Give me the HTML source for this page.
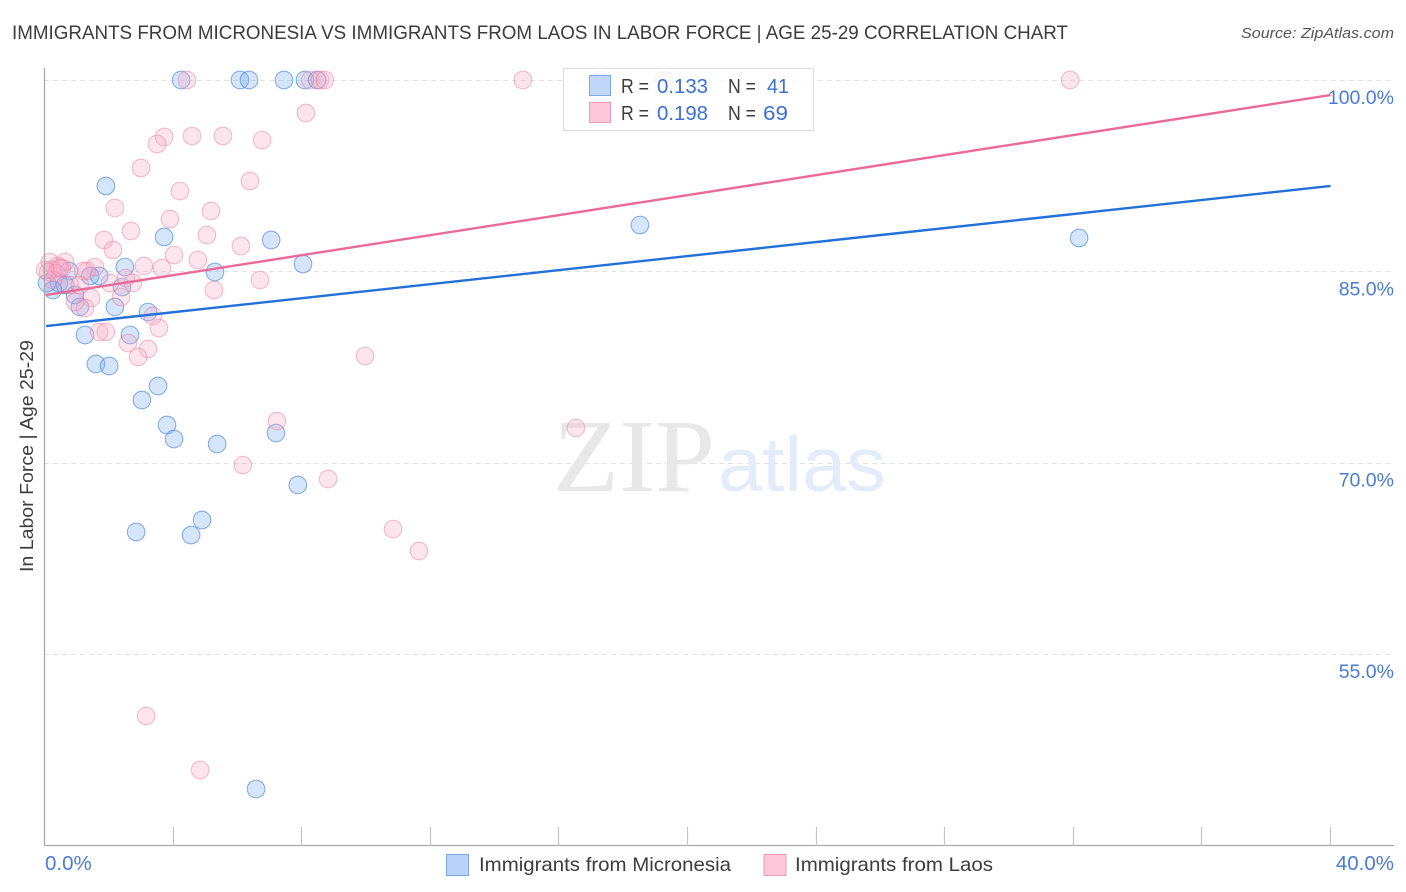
<!DOCTYPE html>
<html lang="en">
<head>
<meta charset="utf-8">
<title>Immigrants from Micronesia vs Immigrants from Laos in Labor Force</title>
<style>
html,body{margin:0;padding:0;background:#fff;width:1406px;height:892px;overflow:hidden}
svg{display:block;font-family:"Liberation Sans",sans-serif}
</style>
</head>
<body>
<svg id="chart" xmlns="http://www.w3.org/2000/svg" width="1406" height="892" viewBox="0 0 1406 892">
  <rect x="0" y="0" width="1406" height="892" fill="#ffffff"/>
  <text x="12" y="39" font-size="19.5" fill="#3c3c3c" textLength="1056" lengthAdjust="spacingAndGlyphs">IMMIGRANTS FROM MICRONESIA VS IMMIGRANTS FROM LAOS IN LABOR FORCE | AGE 25-29 CORRELATION CHART</text>
  <text x="1241" y="38" font-size="15" font-style="italic" fill="#555555" textLength="153" lengthAdjust="spacingAndGlyphs">Source: ZipAtlas.com</text>

  <g id="grid-layer"></g>

  <g>
    <text x="553" y="491" font-family="'Liberation Serif',serif" font-size="104" fill="#e8e8e8" textLength="162" lengthAdjust="spacingAndGlyphs">ZIP</text>
    <text x="718" y="491" font-size="77" fill="#e3ecfb" textLength="168" lengthAdjust="spacingAndGlyphs">atlas</text>
  </g>

  <g id="points-layer"></g>
  <g id="trend-layer"></g>

  <g id="axis-layer">
    <line x1="44.5" y1="68" x2="44.5" y2="846" stroke="#aaaaaa" stroke-width="1.3"/>
    <line x1="44" y1="845.5" x2="1394" y2="845.5" stroke="#aaaaaa" stroke-width="1.3"/>
  </g>

  <text transform="translate(33,572) rotate(-90)" font-size="18" fill="#3c3c3c" textLength="232" lengthAdjust="spacingAndGlyphs">In Labor Force | Age 25-29</text>

  <g>
    <rect x="563.5" y="68.5" width="250" height="62" fill="#ffffff" fill-opacity="0.82" stroke="#dddddd" stroke-width="1"/>
    <rect x="589.5" y="75.5" width="21" height="20" fill="#b9d3f8" fill-opacity="0.9" stroke="#7baae8" stroke-width="1"/>
    <text x="621" y="93" font-size="20" fill="#3c3c3c" textLength="28" lengthAdjust="spacingAndGlyphs">R =</text>
    <text x="657" y="93" font-size="20.5" fill="#3b6fd4" textLength="51" lengthAdjust="spacingAndGlyphs">0.133</text>
    <text x="728" y="93" font-size="20" fill="#3c3c3c" textLength="28" lengthAdjust="spacingAndGlyphs">N =</text>
    <text x="767" y="93" font-size="20.5" fill="#3b6fd4" textLength="22" lengthAdjust="spacingAndGlyphs">41</text>
    <rect x="589.5" y="102.5" width="21" height="20" fill="#fdc8da" stroke="#f09ab8" stroke-width="1"/>
    <text x="621" y="120" font-size="20" fill="#3c3c3c" textLength="28" lengthAdjust="spacingAndGlyphs">R =</text>
    <text x="657" y="120" font-size="20.5" fill="#3b6fd4" textLength="51" lengthAdjust="spacingAndGlyphs">0.198</text>
    <text x="728" y="120" font-size="20" fill="#3c3c3c" textLength="28" lengthAdjust="spacingAndGlyphs">N =</text>
    <text x="763" y="120" font-size="20.5" fill="#3b6fd4" textLength="25" lengthAdjust="spacingAndGlyphs">69</text>
  </g>

  <g>
    <rect x="446.5" y="854.5" width="22" height="21" fill="#b9d3f8" stroke="#7baae8" stroke-width="1"/>
    <text x="479" y="871" font-size="19.5" fill="#3c3c3c" textLength="252" lengthAdjust="spacingAndGlyphs">Immigrants from Micronesia</text>
    <rect x="764" y="854.5" width="22" height="21" fill="#fdc8da" stroke="#f09ab8" stroke-width="1"/>
    <text x="795" y="871" font-size="19.5" fill="#3c3c3c" textLength="198" lengthAdjust="spacingAndGlyphs">Immigrants from Laos</text>
  </g>

<script>
var categoryNames = ['micronesia', 'laos'];
var yTickValues = [100, 85, 70, 55];
var yTickLabels = ['100.0%', '85.0%', '70.0%', '55.0%'];
var xMinorTicks = [4, 8, 12, 16, 20, 24, 28, 32, 36, 40];
var xEndValues = [0, 40];
var xEndLabels = ['0.0%', '40.0%'];

var micronesiaX = [4.25,6.08,6.36,7.45,8.10,8.48,1.91,18.52,32.18,3.72,7.05,8.04,5.30,2.50,1.42,1.70,0.76,0.45,0.64,0.26,0.95,1.10,2.19,2.41,3.22,1.26,2.66,1.60,2.01,3.53,3.03,3.81,4.03,5.37,7.20,7.88,2.85,4.56,4.90,6.58,0.08];
var micronesiaY = [100,100,100,100,100,100,91.69,88.63,87.61,87.69,87.45,85.57,84.94,85.33,84.63,84.63,85.02,84.08,83.92,83.53,83.14,82.20,82.20,83.76,81.80,80.00,80.00,77.73,77.57,76.00,74.90,72.94,71.84,71.45,72.31,68.24,64.55,64.31,65.49,44.39,84.08];

var laosX = [4.43,8.26,8.57,8.72,14.88,31.90,17.28,19.27,8.13,3.72,3.50,4.59,5.55,6.77,3.00,6.39,4.21,2.19,5.18,3.90,2.69,5.05,1.85,2.13,6.11,4.03,4.77,3.09,3.65,6.70,5.27,2.75,2.04,2.53,1.57,1.32,2.38,1.45,0.95,1.26,3.37,3.56,1.70,1.91,2.60,3.22,2.91,9.97,7.23,16.53,6.17,8.82,10.84,11.65,3.16,4.84,0.17,0.64,0.42,0.23,0.11,0.36,0.54,1.20,0.26,0.79,0.02,0.48,1.10];
var laosY = [100,100,100,100,100,100,100,100,97.41,95.53,94.98,95.61,95.61,95.29,93.10,92.08,91.29,89.96,89.73,89.10,88.16,87.84,87.45,86.67,86.98,86.27,85.88,85.41,85.25,84.31,83.53,84.08,84.08,84.47,85.33,85.02,82.98,82.90,82.59,82.12,81.49,80.55,80.24,80.24,79.37,78.90,78.27,78.35,73.25,72.71,69.80,68.71,64.78,63.06,50.12,45.88,85.73,85.73,85.41,85.10,84.94,84.86,85.25,85.02,84.31,83.92,85.10,85.25,83.92];

var trendXRange = [0.05, 40];
var micronesiaTrend = [80.7, 91.69];
var laosTrend = [83.14, 98.82];

var NS = 'http://www.w3.org/2000/svg';
function xScale(v) { return 44.5 + v * 32.15; }
function yScale(v) { return 80 + (100 - v) * 12.75; }

function svgEl(tag, attrs, parent) {
  var el = document.createElementNS(NS, tag);
  for (var k in attrs) { el.setAttribute(k, attrs[k]); }
  parent.appendChild(el);
  return el;
}

var gridLayer = document.getElementById('grid-layer');
var axisLayer = document.getElementById('axis-layer');
var pointsLayer = document.getElementById('points-layer');
var trendLayer = document.getElementById('trend-layer');

yTickValues.forEach(function (v, i) {
  var y = Math.round(yScale(v)) + 0.5;
  var g = svgEl('line', {x1: 44, y1: y, x2: 1394, y2: y, stroke: '#e2e2e2', 'stroke-width': 1, 'stroke-dasharray': '5 4'}, gridLayer);
  
  
  var t = svgEl('text', {x: 1394, y: yScale(v) + 24, 'text-anchor': 'end', 'font-size': 19.5, fill: '#4a7bd6'}, axisLayer);
  t.textContent = yTickLabels[i];
  
  
});

xMinorTicks.forEach(function (v) {
  var x = Math.floor(xScale(v)) + 0.5;
  var tick = svgEl('line', {x1: x, y1: 827, x2: x, y2: 846, stroke: '#c4c4c4', 'stroke-width': 1.2}, axisLayer);
  
  
});

xEndValues.forEach(function (v, i) {
  var t = svgEl('text', {x: i === 0 ? xScale(v) + 0.5 : 1394, y: 870, 'text-anchor': i === 0 ? 'start' : 'end', 'font-size': 20.5, fill: '#4a7bd6'}, axisLayer);
  t.textContent = xEndLabels[i];
  
  
});

function drawPoints(xs, ys, fill, stroke, name) {
  xs.forEach(function (xv, i) {
    var c = svgEl('circle', {cx: xScale(xv), cy: yScale(ys[i]), r: 8.8, fill: fill, stroke: stroke, 'stroke-width': 1.1}, pointsLayer);
    
    
  });
}
drawPoints(micronesiaX, micronesiaY, 'rgba(125,175,240,0.32)', 'rgba(70,130,220,0.62)', 'point-micronesia');
drawPoints(laosX, laosY, 'rgba(250,170,195,0.30)', 'rgba(235,130,165,0.52)', 'point-laos');

var blueLine = svgEl('line', {x1: xScale(trendXRange[0]), y1: yScale(micronesiaTrend[0]), x2: xScale(trendXRange[1]), y2: yScale(micronesiaTrend[1]), stroke: '#2270d8', 'stroke-width': 2.4}, trendLayer);


var pinkLine = svgEl('line', {x1: xScale(trendXRange[0]), y1: yScale(laosTrend[0]), x2: xScale(trendXRange[1]), y2: yScale(laosTrend[1]), stroke: '#ea6a98', 'stroke-width': 2.4}, trendLayer);


</script>
</svg>
</body>
</html>
